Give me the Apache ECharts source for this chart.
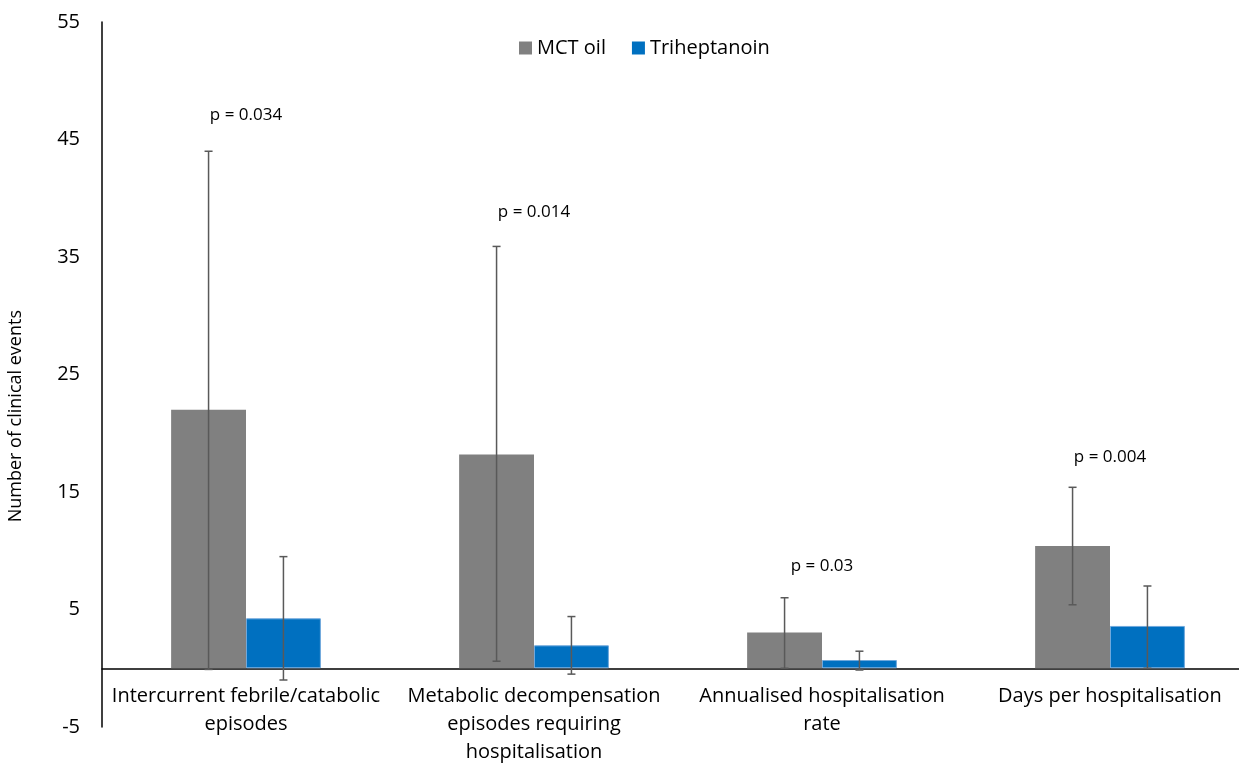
<!DOCTYPE html>
<html>
<head>
<meta charset="utf-8">
<style type="text/css">
    html, body { margin: 0; padding: 0; background: #fff; }
    #chart { width: 1239px; height: 765px; }
</style>
<script src="https://cdn.jsdelivr.net/npm/echarts@6/dist/echarts.min.js"></script>
</head>
<body>
<div id="chart"></div>
<script type="text/javascript">
    var categories = [
        'Intercurrent febrile/catabolic\nepisodes',
        'Metabolic decompensation\nepisodes requiring\nhospitalisation',
        'Annualised hospitalisation\nrate',
        'Days per hospitalisation'
    ];
    var mctValues = [22, 18.2, 3.05, 10.4];
    var mctLow = [-0.1, 0.6, 0, 5.4];
    var mctHigh = [44, 35.9, 6.0, 15.4];
    var triValues = [4.25, 1.95, 0.7, 3.6];
    var triLow = [-1.0, -0.5, -0.15, 0];
    var triHigh = [9.5, 4.4, 1.45, 7.0];
    var pLabels = ['p = 0.034', 'p = 0.014', 'p = 0.03', 'p = 0.004'];
    var pHeights = [47.1, 38.8, 8.7, 18];

    var FONT = 'Open Sans';
    var BAR_RATIO = 0.26;
    var Y_MIN = -5, Y_MAX = 55;
    var GRID_TOP = 22, GRID_BOTTOM = 38;

    // category labels sit under the zero line, not under the grid bottom
    var plotH = 765 - GRID_TOP - GRID_BOTTOM;
    var zeroFromBottom = (0 - Y_MIN) / (Y_MAX - Y_MIN) * plotH;

    // error bar for one series, side = -1 (left bar) or 1 (right bar)
    function errorSeries(low, high, side) {
        return {
            type: 'custom',
            silent: true,
            z: 5,
            data: low.map(function (v, i) { return [i, v, high[i]]; }),
            renderItem: function (params, api) {
                var idx = api.value(0);
                var bw = api.size([1, 0])[0] * BAR_RATIO;
                var lo = api.coord([idx, api.value(1)]);
                var hi = api.coord([idx, api.value(2)]);
                var x = lo[0] + side * bw / 2;
                var cap = 4;
                var style = { stroke: '#595959', lineWidth: 1.5 };
                return {
                    type: 'group',
                    children: [
                        { type: 'line', shape: { x1: x, y1: lo[1], x2: x, y2: hi[1] }, style: style },
                        { type: 'line', shape: { x1: x - cap, y1: hi[1], x2: x + cap, y2: hi[1] }, style: style },
                        { type: 'line', shape: { x1: x - cap, y1: lo[1], x2: x + cap, y2: lo[1] }, style: style }
                    ]
                };
            }
        };
    }

    var chart = echarts.init(document.getElementById('chart'));
    chart.setOption({
        animation: false,
        textStyle: { fontFamily: FONT },
        legend: {
            top: 33,
            left: 514,
            icon: 'rect',
            itemWidth: 13,
            itemHeight: 13,
            itemGap: 26,
            itemStyle: { borderWidth: 0 },
            textStyle: { fontSize: 20, color: '#000', fontFamily: FONT },
            data: ['MCT oil', 'Triheptanoin']
        },
        grid: { left: 102, right: -15, top: GRID_TOP, bottom: GRID_BOTTOM, outerBoundsMode: 'none', containLabel: false },
        xAxis: {
            type: 'category',
            data: categories,
            axisLine: { onZero: true, lineStyle: { color: '#000', width: 1.5 } },
            axisTick: { show: false },
            axisLabel: {
                fontSize: 20,
                color: '#000',
                lineHeight: 28,
                margin: 14 - zeroFromBottom,
                interval: 0,
                fontFamily: FONT
            }
        },
        yAxis: {
            type: 'value',
            min: Y_MIN,
            max: Y_MAX,
            interval: 10,
            splitLine: { show: false },
            axisLine: { show: true, lineStyle: { color: '#000', width: 1.5 } },
            axisTick: { show: false },
            axisLabel: { fontSize: 20, color: '#000', margin: 22, fontFamily: FONT }
        },
        graphic: [{
            type: 'text',
            left: 7,
            top: 310,
            rotation: Math.PI / 2,
            style: {
                text: 'Number of clinical events',
                fontSize: 18,
                fill: '#000',
                fontFamily: FONT
            }
        }],
        series: [
            {
                name: 'MCT oil',
                type: 'bar',
                data: mctValues,
                barWidth: (BAR_RATIO * 100) + '%',
                barGap: '0%',
                itemStyle: { color: '#808080' }
            },
            {
                name: 'Triheptanoin',
                type: 'bar',
                data: triValues,
                barWidth: (BAR_RATIO * 100) + '%',
                barGap: '0%',
                itemStyle: { color: '#0070C0', borderColor: '#6FA8DC', borderWidth: 1 }
            },
            errorSeries(mctLow, mctHigh, -1),
            errorSeries(triLow, triHigh, 1),
            {
                type: 'custom',
                silent: true,
                data: pHeights.map(function (v, i) { return [i, v]; }),
                renderItem: function (params, api) {
                    var p = api.coord([api.value(0), api.value(1)]);
                    return {
                        type: 'text',
                        x: p[0],
                        y: p[1],
                        style: {
                            text: pLabels[params.dataIndex],
                            fontSize: 17,
                            fill: '#000',
                            fontFamily: FONT,
                            align: 'center',
                            verticalAlign: 'middle'
                        }
                    };
                }
            }
        ]
    });
</script>
</body>
</html>
